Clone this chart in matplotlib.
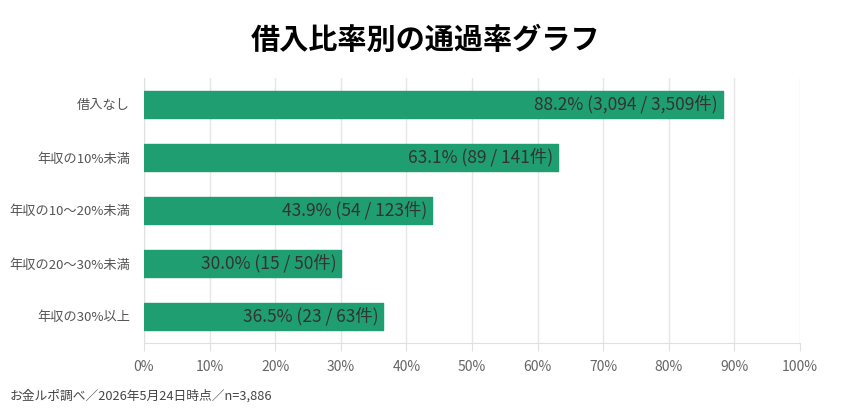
import matplotlib
matplotlib.use("Agg")
import matplotlib.pyplot as plt
from matplotlib.ticker import FuncFormatter

plt.rcParams['font.family'] = ['Noto Sans CJK JP', 'DejaVu Sans']

# data
categories = ['借入なし', '年収の10%未満', '年収の10〜20%未満', '年収の20〜30%未満', '年収の30%以上']
rates = [88.2, 63.1, 43.9, 30.0, 36.5]
passed = ['3,094', '89', '54', '15', '23']
totals = ['3,509', '141', '123', '50', '63']

bar_color = '#1f9e72'

fig = plt.figure(figsize=(8.5, 4.18), dpi=100)
ax = fig.add_axes([144/850, 1-343/418, 656/850, 265/418])

y = list(range(len(categories)))
bars = ax.barh(y, rates, height=0.51, color=bar_color, edgecolor=bar_color,
               linewidth=1, joinstyle='round', zorder=3)

for yi, r, p, t in zip(y, rates, passed, totals):
    ax.text(r - 0.7, yi, f'{r:.1f}% ({p} / {t}件)', ha='right', va='center',
            fontsize=12.5, color='#333333', zorder=4)

ax.set_xlim(0, 100)
ax.set_ylim(len(categories) - 0.5, -0.5)
ax.set_xticks(range(0, 101, 10))
ax.xaxis.set_major_formatter(FuncFormatter(lambda v, _: f'{int(v)}%'))
ax.set_yticks(y)
ax.set_yticklabels(categories)

ax.grid(axis='x', color='#e6e6e6', linewidth=1, zorder=0)
for s in ['top', 'right']:
    ax.spines[s].set_visible(False)
ax.spines['left'].set_color('#e0e0e0')
ax.spines['bottom'].set_color('#e0e0e0')
ax.tick_params(axis='x', colors='#e0e0e0', labelcolor='#666666', labelsize=10, length=6, pad=6)
ax.tick_params(axis='y', length=0, labelcolor='#555555', labelsize=9.5, pad=10)

fig.text(0.5, 1-40/418, '借入比率別の通過率グラフ', ha='center', va='center',
         fontsize=21, fontweight='bold', color='#000000')
fig.text(10/850, 1-396/418, 'お金ルポ調べ／2026年5月24日時点／n=3,886', ha='left', va='center',
         fontsize=9.2, color='#444444')

fig.savefig('out.png', dpi=100)
